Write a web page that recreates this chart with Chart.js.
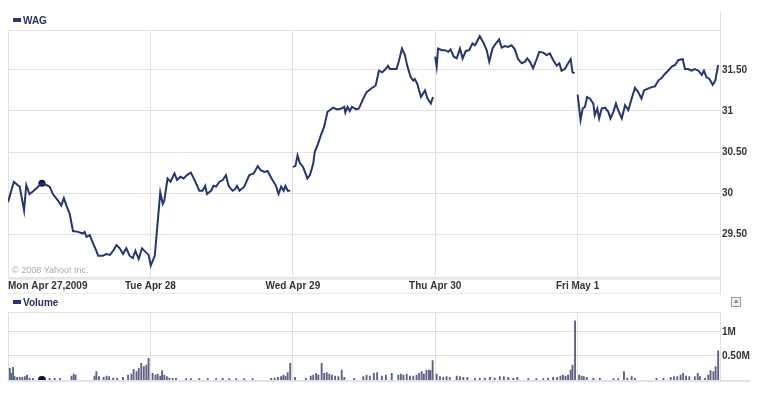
<!DOCTYPE html>
<html>
<head>
<meta charset="utf-8">
<script src="https://cdn.jsdelivr.net/npm/chart.js@4.4.0/dist/chart.umd.min.js"></script>
<style>
  body { margin: 0; background: #fff; width: 761px; height: 393px; position: relative; overflow: hidden; font-family: "Liberation Sans", Arial, sans-serif; }
  canvas { position: absolute; left: 0; }
  #price-chart { top: 0; }
  #volume-chart { top: 295px; }
  .legend { position: absolute; left: 13px; font-weight: bold; font-size: 10px; line-height: 12px; color: #2a3160; }
  .legend i { display: inline-block; width: 8px; height: 4px; background: #26366f; margin-right: 2px; vertical-align: 2px; }
  .close { position: absolute; left: 731px; top: 297px; width: 8px; height: 8px; border: 1px solid #9a9a9a; background: #eee; font-size: 8px; line-height: 7px; text-align: center; color: #333; }
</style>
</head>
<body>
<canvas id="price-chart" width="761" height="295"></canvas>
<canvas id="volume-chart" width="761" height="98"></canvas>
<div class="legend" style="top:15px"><i></i>WAG</div>
<div class="legend" style="top:297px"><i></i>Volume</div>
<div class="close">×</div>
<script>
// WAG intraday, Apr 27 - May 1 2009 (minutes since open, price)
const sessionMinutes = 390;
const dayLabels = ['Mon Apr 27,2009', 'Tue Apr 28', 'Wed Apr 29', 'Thu Apr 30', 'Fri May 1'];
const priceTicks = [29.5, 30, 30.5, 31, 31.5];
const volumeTicks = [500, 1000]; // thousands

const monMinutes = [0,16,26,32,44,50,59,68,78,87,93,105,114,123,137,146,153,160,169,178,192,205,210,215,224,233,242,247,260,269,279,288,297,306,315,324,333,342,349,358,367,376,385];
const monPrices = [29.89,30.14,30.10,30.08,29.79,30.10,29.99,30.02,30.06,30.10,30.12,30.10,30.08,29.99,29.91,29.85,29.94,29.85,29.75,29.54,29.53,29.51,29.53,29.47,29.49,29.39,29.30,29.24,29.24,29.26,29.25,29.30,29.37,29.33,29.26,29.33,29.24,29.21,29.30,29.20,29.33,29.29,29.25];
const tueMinutes = [1,12,27,34,38,47,55,66,73,82,91,100,111,121,134,143,150,155,166,173,180,189,198,207,214,225,232,237,244,257,271,283,294,302,312,321,332,344,351,358,365,370,376,383];
const tuePrices = [29.12,29.24,30.01,29.87,29.91,30.18,30.14,30.24,30.16,30.20,30.18,30.22,30.25,30.16,30.03,30.03,30.09,29.99,30.03,30.09,30.08,30.14,30.16,30.22,30.09,30.03,30.05,30.09,30.03,30.08,30.22,30.24,30.33,30.28,30.26,30.27,30.18,30.09,29.99,30.08,30.03,30.09,30.03,30.03];
const wedMinutes = [0,7,13,19,28,40,47,56,60,69,78,86,95,101,110,122,133,141,144,150,156,162,174,181,193,202,214,227,236,245,254,261,266,275,284,290,299,307,314,323,330,334,341,351,362,369,378,384];
const wedPrices = [30.32,30.33,30.46,30.37,30.32,30.18,30.22,30.36,30.50,30.60,30.72,30.81,30.99,31.01,31.04,31.02,31.03,31.05,30.98,31.05,31.00,31.05,31.02,31.03,31.15,31.23,31.27,31.31,31.49,31.47,31.51,31.55,31.51,31.51,31.51,31.60,31.76,31.68,31.54,31.41,31.37,31.39,31.33,31.17,31.25,31.15,31.09,31.17];
const thuMinutes = [0,4,8,18,27,36,42,51,59,68,75,84,93,102,109,122,131,141,148,157,166,175,182,191,200,209,218,227,237,246,252,259,268,277,285,296,305,314,323,333,340,346,355,364,371,376,382];
const thuPrices = [31.66,31.54,31.76,31.74,31.74,31.72,31.75,31.66,31.64,31.76,31.64,31.73,31.74,31.82,31.80,31.91,31.84,31.74,31.60,31.76,31.82,31.87,31.77,31.79,31.78,31.80,31.75,31.63,31.58,31.60,31.64,31.60,31.52,31.62,31.72,31.71,31.68,31.70,31.62,31.55,31.58,31.49,31.51,31.58,31.63,31.47,31.46];
const friMinutes = [0,4,8,14,20,26,34,43,47,54,59,66,75,84,90,98,105,111,121,130,139,148,157,166,175,182,191,203,212,221,230,239,248,258,267,276,288,294,303,312,321,331,340,346,353,361,370,377,385];
const friPrices = [31.20,31.05,30.89,31.03,31.05,31.17,31.15,31.09,30.95,31.03,30.91,31.03,31.04,30.99,30.91,30.99,31.09,31.01,30.91,31.07,31.01,31.15,31.28,31.23,31.15,31.25,31.27,31.29,31.30,31.37,31.40,31.45,31.49,31.54,31.56,31.62,31.63,31.51,31.51,31.49,31.51,31.49,31.44,31.49,31.41,31.39,31.32,31.37,31.56];

const monVolMinutes = [5,9,14,18,25,32,39,46,52,59,68,114,128,142,174,180,185,237,242,249,262,270,277,288,299,315,329,338,344,352,358,365,372,379,385];
const monVolumes = [243,139,263,69,55,55,55,69,104,42,35,35,35,35,83,125,104,83,173,69,55,83,69,42,35,55,104,125,222,173,243,347,277,312,450];
const tueVolMinutes = [6,14,20,27,32,38,45,52,61,70,98,111,134,157,180,198,216,235,257,280,331,340,349,358,364,370,376,383];
const tueVolumes = [139,104,125,83,194,104,69,42,35,35,28,28,28,28,28,35,28,28,28,28,35,42,55,69,104,83,153,347];
const wedVolMinutes = [6,36,49,56,64,70,79,86,93,100,107,116,125,134,141,168,193,202,211,222,231,244,255,271,289,296,303,312,321,330,339,346,353,359,366,373,377,383];
const wedVolumes = [55,35,83,104,139,104,347,139,153,125,104,83,69,208,55,35,69,104,83,139,153,83,104,139,104,125,104,125,83,83,104,139,173,125,208,208,194,402];
const thuVolMinutes = [4,13,22,31,40,59,68,77,88,109,122,136,150,163,177,188,200,214,225,255,277,296,309,323,334,343,350,357,364,371,376,383];
const thuVolumes = [125,69,55,69,55,83,69,55,55,35,42,42,55,42,69,69,55,35,55,28,28,28,42,55,55,83,104,83,104,208,312,1234];
const friVolMinutes = [4,11,17,25,43,61,98,111,127,136,148,157,216,235,255,264,273,282,289,297,306,321,329,335,349,358,364,372,378,385];
const friVolumes = [104,83,69,55,35,35,28,28,173,42,69,35,35,35,55,69,69,104,139,83,69,69,139,69,35,104,194,173,277,610];

const markerMinute = 93;
const markerPrice = 30.12;

const priceDays = [[monMinutes, monPrices], [tueMinutes, tuePrices], [wedMinutes, wedPrices], [thuMinutes, thuPrices], [friMinutes, friPrices]];
const volumeDays = [[monVolMinutes, monVolumes], [tueVolMinutes, tueVolumes], [wedVolMinutes, wedVolumes], [thuVolMinutes, thuVolumes], [friVolMinutes, friVolumes]];

const pricePoints = [];
priceDays.forEach(([mins, prices], d) => {
  if (d > 1) pricePoints.push({ x: d * sessionMinutes - 1, y: null }); // gap between sessions
  mins.forEach((m, i) => pricePoints.push({ x: d * sessionMinutes + m, y: prices[i] }));
});
const volumePoints = [];
volumeDays.forEach(([mins, vols], d) => {
  mins.forEach((m, i) => volumePoints.push({ x: d * sessionMinutes + m, y: vols[i] }));
});

const navy = '#26366f';
const gridColor = '#e2e2e2';
const labelFont = { family: 'Liberation Sans', size: 10, weight: 'bold' };
const dayTicks = dayLabels.map((_, i) => ({ value: i * sessionMinutes }));

const priceDecor = {
  id: 'priceDecor',
  beforeDatasetsDraw(chart) {
    const { ctx, chartArea: a } = chart;
    ctx.save();
    ctx.font = '9px "Liberation Sans"';
    ctx.fillStyle = '#ababab';
    ctx.textBaseline = 'middle';
    ctx.fillText('\u00a9 2008 Yahoo! Inc.', a.left + 4, a.bottom - 6);
    ctx.restore();
  },
  afterDraw(chart) {
    const { ctx, chartArea: a, scales: { x } } = chart;
    ctx.save();
    ctx.fillStyle = '#e6e6e6';
    ctx.fillRect(a.left, a.bottom, a.right - a.left, 3);
    ctx.fillRect(a.left, a.bottom + 16, a.right - a.left, 1);
    ctx.fillStyle = gridColor;
    ctx.fillRect(a.right, 12, 1, a.top - 12);
    ctx.fillRect(a.right, a.bottom, 1, chart.height - a.bottom);
    ctx.font = 'bold 10px "Liberation Sans"';
    ctx.fillStyle = '#333';
    ctx.textBaseline = 'middle';
    dayLabels.forEach((t, i) => {
      ctx.textAlign = i === 0 ? 'left' : 'center';
      ctx.fillText(t, x.getPixelForValue(i * sessionMinutes), a.bottom + 9.5);
    });
    ctx.restore();
  }
};

new Chart(document.getElementById('price-chart'), {
  type: 'line',
  data: {
    datasets: [{
      data: pricePoints,
      borderColor: navy,
      borderWidth: 2,
      pointRadius: 0,
      tension: 0,
      spanGaps: false
    }, {
      data: [{ x: markerMinute, y: markerPrice }],
      showLine: false,
      pointRadius: 3.5,
      pointBackgroundColor: '#0b1238',
      pointBorderWidth: 0
    }]
  },
  options: {
    responsive: false,
    animation: false,
    layout: { padding: { left: 8, top: 30, right: 0, bottom: 0 } },
    plugins: { legend: { display: false }, tooltip: { enabled: false } },
    scales: {
      x: {
        type: 'linear',
        min: 0,
        max: 5 * sessionMinutes,
        afterBuildTicks: axis => { axis.ticks = dayTicks.slice(); },
        afterFit: axis => { axis.height = 18.3; },
        ticks: { display: false },
        grid: { color: gridColor, drawTicks: false },
        border: { display: false }
      },
      y: {
        position: 'right',
        min: 28.985,
        max: 31.985,
        afterBuildTicks: axis => { axis.ticks = [...priceTicks, axis.max].map(v => ({ value: v })); },
        afterFit: axis => { axis.width = 41; },
        ticks: {
          padding: 2,
          font: labelFont,
          color: '#333',
          callback: v => priceTicks.includes(v) ? (Number.isInteger(v) ? String(v) : v.toFixed(2)) : ''
        },
        grid: { color: gridColor, drawTicks: false },
        border: { color: gridColor }
      }
    }
  },
  plugins: [priceDecor]
});

const volumeDecor = {
  id: 'volumeDecor',
  afterDraw(chart) {
    const { ctx, chartArea: a } = chart;
    ctx.save();
    ctx.fillStyle = '#dfe4ec';
    ctx.fillRect(a.left, a.bottom, 750 - a.left, 2);
    ctx.restore();
  }
};

new Chart(document.getElementById('volume-chart'), {
  type: 'bar',
  data: {
    datasets: [{
      data: volumePoints,
      backgroundColor: '#5c6280',
      barThickness: 1.2
    }, {
      type: 'line',
      data: [{ x: markerMinute, y: 0 }],
      showLine: false,
      pointRadius: 4,
      pointBackgroundColor: '#0b1238',
      pointBorderWidth: 0,
      clip: 0
    }]
  },
  options: {
    responsive: false,
    animation: false,
    layout: { padding: { left: 8, top: 17.3, right: 0, bottom: 0 } },
    plugins: { legend: { display: false }, tooltip: { enabled: false } },
    scales: {
      x: {
        type: 'linear',
        offset: false,
        min: 0,
        max: 5 * sessionMinutes,
        afterBuildTicks: axis => { axis.ticks = dayTicks.slice(); },
        afterFit: axis => { axis.height = 13; },
        ticks: { display: false },
        grid: { color: gridColor, drawTicks: false, offset: false },
        border: { display: false }
      },
      y: {
        position: 'right',
        min: 0,
        max: 1410,
        afterBuildTicks: axis => { axis.ticks = [...volumeTicks, axis.max].map(v => ({ value: v })); },
        afterFit: axis => { axis.width = 41; },
        ticks: {
          padding: 2,
          font: labelFont,
          color: '#333',
          callback: v => volumeTicks.includes(v) ? (v % 1000 === 0 ? (v / 1000) + 'M' : (v / 1000).toFixed(2) + 'M') : ''
        },
        grid: { color: gridColor, drawTicks: false },
        border: { color: gridColor }
      }
    }
  },
  plugins: [volumeDecor]
});
</script>
</body>
</html>
